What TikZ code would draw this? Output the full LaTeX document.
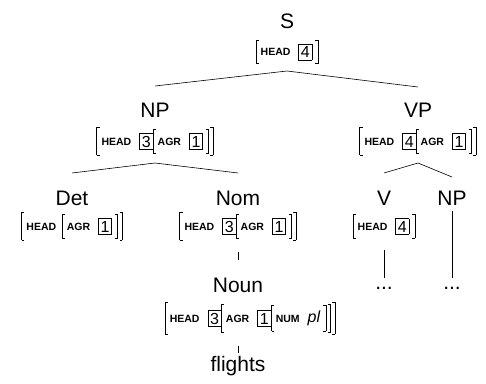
\documentclass[tikz,border=0pt]{standalone}
\usepackage{fontspec}
\setmainfont{Liberation Sans}

% feature label, boxed tag, atomic value, brackets of a given total height (in pt)
\newcommand\lab[1]{{\fontsize{10.5}{12}\selectfont\bfseries #1}}
\newcommand\bx[1]{\raisebox{-2pt}{\fboxsep=2pt\fboxrule=0.5pt\fbox{\fontsize{16}{16}\selectfont #1}}}
\newcommand\val[1]{{\fontsize{16}{16}\selectfont\itshape #1}}
\newcommand\LB[1]{\raisebox{\dimexpr3.75pt-#1pt/2\relax}{\rule{0.55pt}{#1pt}\rule[\dimexpr#1pt-0.55pt\relax]{2.5pt}{0.55pt}\hspace{-2.5pt}\rule{2.5pt}{0.55pt}}}
\newcommand\RB[1]{\raisebox{\dimexpr3.75pt-#1pt/2\relax}{\rule[\dimexpr#1pt-0.55pt\relax]{2.5pt}{0.55pt}\hspace{-2.5pt}\rule{2.5pt}{0.55pt}\rule{0.55pt}{#1pt}}}

\begin{document}
\begin{tikzpicture}[x=1pt,y=-1pt,
  cat/.style={inner sep=0pt,anchor=base,font=\fontsize{21}{21}\selectfont},
  avm/.style={inner sep=0pt,anchor=base},
  branch/.style={line width=0.6pt}]
\useasboundingbox (0,0) rectangle (486,383);

% category labels
\node[cat] (S)      at (287,28)  {S};
\node[cat] (NP)     at (155,117) {NP};
\node[cat] (VP)     at (418,117) {VP};
\node[cat] (Det)    at (72,205)  {Det};
\node[cat] (Nom)    at (238,205) {Nom};
\node[cat] (V)      at (384,205) {V};
\node[cat] (NPb)    at (452,205) {NP};
\node[cat] (Noun)   at (238,292) {Noun};
\node[cat] (flights) at (238,371) {flights};
\node[cat] (dotsV)  at (384,289) {...};
\node[cat] (dotsNP) at (452,289) {...};

% feature structures
\node[avm] (fS) at (287,55.5) {\LB{24}\hspace{2pt}\lab{HEAD}\hspace{8pt}\bx{4}\hspace{3pt}\RB{24}};
\node[avm] (fNP) at (155,145) {\LB{28}\hspace{2pt}\lab{HEAD}\hspace{8pt}\bx{3}\LB{25}\hspace{1.5pt}\lab{AGR}\hspace{8pt}\bx{1}\hspace{3pt}\RB{25}\hspace{1.5pt}\RB{28}};
\node[avm] (fVP) at (418,145) {\LB{28}\hspace{2pt}\lab{HEAD}\hspace{8pt}\bx{4}\LB{25}\hspace{1.5pt}\lab{AGR}\hspace{8pt}\bx{1}\hspace{3pt}\RB{25}\hspace{1.5pt}\RB{28}};
\node[avm] (fDet) at (72,230) {\LB{28}\hspace{2pt}\lab{HEAD}\hspace{6pt}\LB{25}\hspace{1.5pt}\lab{AGR}\hspace{8pt}\bx{1}\hspace{3pt}\RB{25}\hspace{1.5pt}\RB{28}};
\node[avm] (fNom) at (238,230) {\LB{28}\hspace{2pt}\lab{HEAD}\hspace{8pt}\bx{3}\LB{25}\hspace{1.5pt}\lab{AGR}\hspace{8pt}\bx{1}\hspace{3pt}\RB{25}\hspace{1.5pt}\RB{28}};
\node[avm] (fV) at (384,230) {\LB{24}\hspace{2pt}\lab{HEAD}\hspace{8pt}\bx{4}\hspace{3pt}\RB{24}};
\node[avm] (fNoun) at (250,322) {\LB{32}\hspace{2pt}\lab{HEAD}\hspace{8pt}\bx{3}\LB{29}\hspace{1.5pt}\lab{AGR}\hspace{8pt}\bx{1}\LB{26}\hspace{1.5pt}\lab{NUM}\hspace{8pt}\val{pl}\hspace{3pt}\RB{26}\hspace{1.5pt}\RB{29}\hspace{1.5pt}\RB{32}};

% branch points and branch ends
\coordinate (sJ) at (287,71);
\coordinate (npT) at (155,86);
\coordinate (vpT) at (418,87);
\coordinate (npJ) at (155,163);
\coordinate (detT) at (72,173);
\coordinate (nomT) at (238,173);
\coordinate (vpJ) at (418,163);
\coordinate (vT) at (384,173);
\coordinate (npbT) at (452,177);
\coordinate (nomB) at (238,252);
\coordinate (nounT) at (238,260);
\coordinate (nounB) at (238,346);
\coordinate (flT) at (238,353);
\coordinate (vB) at (384,250);
\coordinate (dvT) at (384,278);
\coordinate (npbB) at (452,211);
\coordinate (dnT) at (452,278);

\draw[branch] (npT) -- (sJ) -- (vpT);
\draw[branch] (detT) -- (npJ) -- (nomT);
\draw[branch] (vT) -- (vpJ) -- (npbT);
\draw[branch] (nomB) -- (nounT);
\draw[branch] (nounB) -- (flT);
\draw[branch] (vB) -- (dvT);
\draw[branch] (npbB) -- (dnT);
\end{tikzpicture}
\end{document}
